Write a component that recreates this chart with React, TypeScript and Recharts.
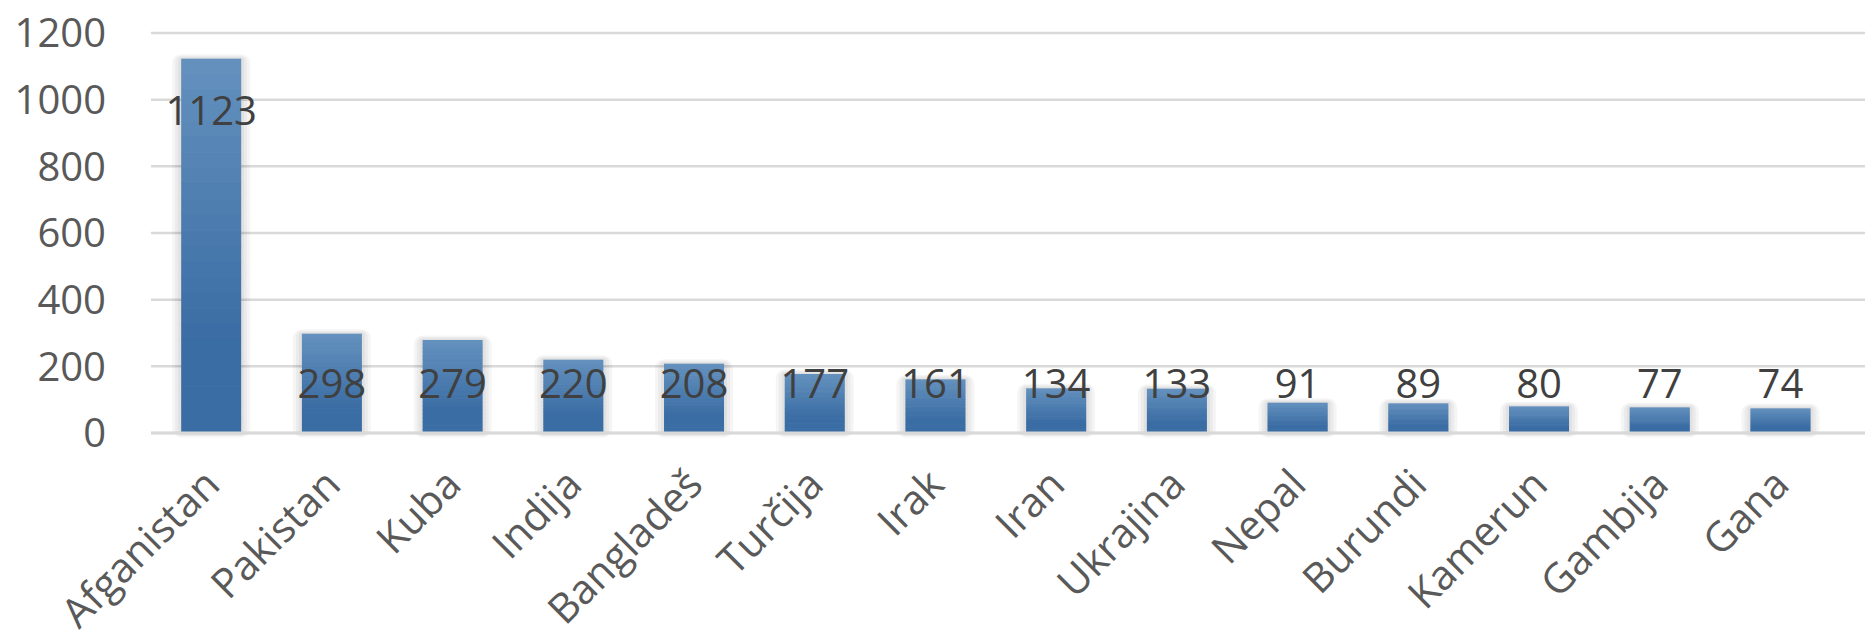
import { BarChart, Bar, XAxis, YAxis, CartesianGrid, LabelList } from 'recharts';

const countries = [
  'Afganistan', 'Pakistan', 'Kuba', 'Indija', 'Bangladeš', 'Turčija', 'Irak',
  'Iran', 'Ukrajina', 'Nepal', 'Burundi', 'Kamerun', 'Gambija', 'Gana',
];
const counts = [1123, 298, 279, 220, 208, 177, 161, 134, 133, 91, 89, 80, 77, 74];
const yTicks = [0, 200, 400, 600, 800, 1000, 1200];

const data = countries.map((name, i) => ({ name, value: counts[i] }));
const maxValue = Math.max(...counts);

const FONT = '"Open Sans", "Liberation Sans", sans-serif';
const TOP_RGB = [99, 144, 189];
const BOTTOM_RGB = [58, 109, 164];

function CountryTick(props: any) {
  const { x, y, payload } = props;
  return (
    <text
      x={x}
      y={y}
      dy={40}
      dx={-25}
      transform={`rotate(-45, ${x}, ${y})`}
      textAnchor="end"
      fill="#595959"
      fontSize={41}
      fontFamily={FONT}
    >
      {payload.value}
    </text>
  );
}

function ValueLabel(props: any) {
  const { x, y, width, height, value } = props;
  const cx = x + width / 2;
  // big bar gets its label near the top, the rest sit just above the baseline
  const cy = value === maxValue ? y + 51 : y + height - 51;
  return (
    <text
      x={cx}
      y={cy}
      textAnchor="middle"
      dominantBaseline="central"
      fill="#404040"
      fontSize={40}
      fontFamily={FONT}
    >
      {value}
    </text>
  );
}

// plain rect slices instead of a gradient url, plus a soft fake shadow
function ShadedBar(p: any) {
  const { x, y, width, height } = p;
  if (!height || height <= 0) return null;
  const steps = 24;
  const slice = height / steps;
  const shadow = [9, 6, 3].map((s, i) => (
    <rect
      key={`s${i}`}
      x={x - s}
      y={y - s / 2}
      width={width + 2 * s}
      height={height + s}
      rx={s}
      fill="#000"
      fillOpacity={0.04}
    />
  ));
  const slices = Array.from({ length: steps }, (_, i) => {
    const t = i / (steps - 1);
    const c = TOP_RGB.map((v, k) => Math.round(v + (BOTTOM_RGB[k] - v) * Math.min(1, t * 1.3)));
    return (
      <rect
        key={i}
        x={x}
        y={y + i * slice}
        width={width}
        height={slice + 0.6}
        fill={`rgb(${c[0]},${c[1]},${c[2]})`}
      />
    );
  });
  return (
    <g>
      {shadow}
      {slices}
    </g>
  );
}

export default function App() {
  return (
    <div style={{ position: 'absolute', left: 0, top: 0, background: '#fff' }}>
      <BarChart
        width={1865}
        height={630}
        data={data}
        margin={{ top: 33, right: 0, bottom: 0, left: 0 }}
        barCategoryGap="25%"
      >
        <CartesianGrid vertical={false} stroke="#d9d9d9" strokeWidth={2.5} />
        <XAxis
          dataKey="name"
          height={197}
          interval={0}
          padding={{ left: 0, right: 24 }}
          tick={<CountryTick />}
          tickLine={false}
          axisLine={{ stroke: '#d9d9d9', strokeWidth: 3 }}
        />
        <YAxis
          width={151}
          domain={[0, 1200]}
          ticks={yTicks}
          tickLine={false}
          axisLine={false}
          tickSize={0}
          tickMargin={45}
          tick={{ fill: '#595959', fontSize: 40, fontFamily: FONT }}
        />
        <Bar dataKey="value" fill="#4a7fb6" isAnimationActive={false} shape={<ShadedBar />}>
          <LabelList dataKey="value" content={<ValueLabel />} />
        </Bar>
      </BarChart>
    </div>
  );
}
